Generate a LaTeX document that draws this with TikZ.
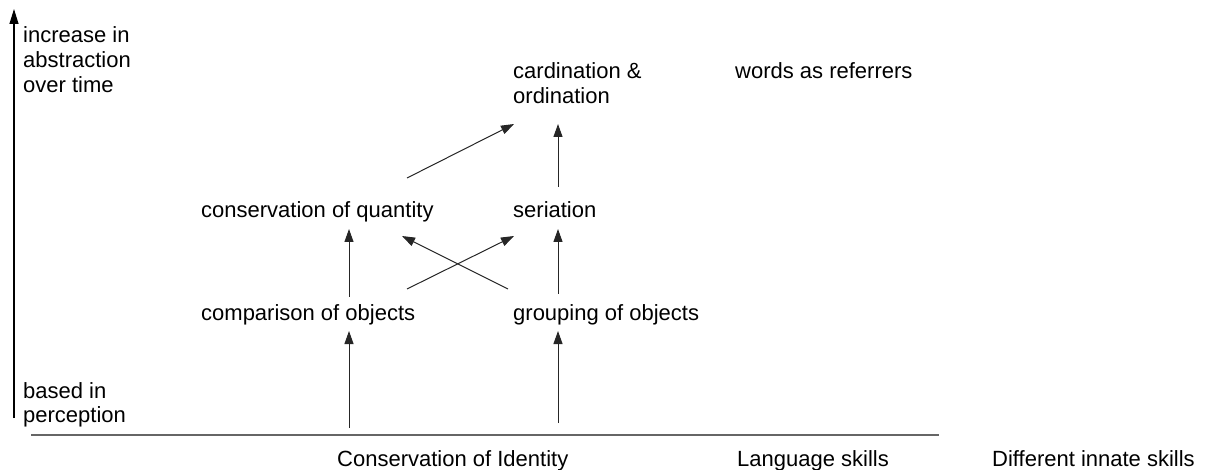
\documentclass[tikz,border=0pt]{standalone}
\usepackage{fontspec}
\setmainfont{Liberation Sans}
\usetikzlibrary{arrows.meta}
\begin{document}
\begin{tikzpicture}[x=1pt,y=-1pt,
  lbl/.style={anchor=base west,inner sep=0pt,font=\fontsize{22}{25}\selectfont},
  conn/.style={draw=black!85,line width=1pt,-{Triangle[length=13pt,width=9pt]}},
  axisline/.style={draw=black,line width=1.2pt,-{Triangle[length=15pt,width=9pt]}},
  groundline/.style={draw=black!60,line width=1.6pt}]
\useasboundingbox (0,0) rectangle (1210,470);

% vertical axis with its two labels
\coordinate (axbot) at (14,418);
\coordinate (axtop) at (14,9);
\draw[axisline] (axbot) -- (axtop);
\node[lbl] (inc1) at (23,43) {increase in};
\node[lbl] (inc2) at (23,68) {abstraction};
\node[lbl] (inc3) at (23,93) {over time};
\node[lbl] (base1) at (23,398) {based in};
\node[lbl] (base2) at (23,422) {perception};

% ground line and the base skills
\coordinate (gl) at (31,435);
\coordinate (gr) at (939,435);
\draw[groundline] (gl) -- (gr);
\node[lbl] (ident) at (337,466) {Conservation of Identity};
\node[lbl] (lang) at (737,466) {Language skills};
\node[lbl] (innate) at (992,466) {Different innate skills};

% concept levels
\node[lbl] (comp) at (201,320) {comparison of objects};
\node[lbl] (group) at (513,320) {grouping of objects};
\node[lbl] (quant) at (201,218) {conservation of quantity};
\node[lbl] (seri) at (513,218) {seriation};
\node[lbl] (card1) at (513,79) {cardination \&};
\node[lbl] (card2) at (513,104) {ordination};
\node[lbl] (words) at (735,79) {words as referrers};

% connector end points
\coordinate (cmpIn) at (349,428);
\coordinate (cmpTip) at (349,331);
\coordinate (grpIn) at (558,423);
\coordinate (grpTip) at (558,331);
\coordinate (cmpUp) at (349,297);
\coordinate (qntTip) at (349,229);
\coordinate (grpUp) at (558,294);
\coordinate (serTip) at (558,229);
\coordinate (serUp) at (558,187);
\coordinate (crdTipA) at (558,124);
\coordinate (qntUp) at (407,178);
\coordinate (crdTipB) at (514,124);
\coordinate (cmpDiag) at (407,289);
\coordinate (serDiag) at (514,236);
\coordinate (grpDiag) at (508,289);
\coordinate (qntDiag) at (402,236);

% arrows
\draw[conn] (cmpIn) -- (cmpTip);
\draw[conn] (grpIn) -- (grpTip);
\draw[conn] (cmpUp) -- (qntTip);
\draw[conn] (grpUp) -- (serTip);
\draw[conn] (serUp) -- (crdTipA);
\draw[conn] (qntUp) -- (crdTipB);
\draw[conn] (cmpDiag) -- (serDiag);
\draw[conn] (grpDiag) -- (qntDiag);
\end{tikzpicture}
\end{document}
